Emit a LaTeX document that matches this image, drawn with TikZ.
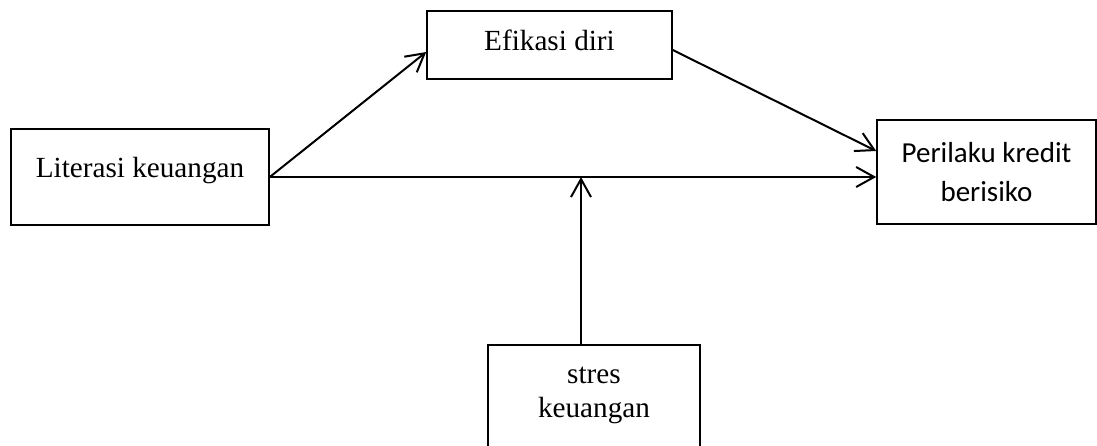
\documentclass[tikz,border=0pt]{standalone}
\usepackage{fontspec}
\setmainfont{Liberation Serif}
\newfontfamily\carlito{Carlito}
\usetikzlibrary{arrows.meta}
\tikzset{
  varbox/.style={draw, line width=0.8pt, inner sep=0pt, align=center,
    font=\fontsize{14.6}{17}\selectfont},
  path/.style={line width=1pt, -{Straight Barb[length=9pt,width=10pt,line width=1pt]}},
}

\begin{document}
\begin{tikzpicture}[x=0.5pt, y=-0.5pt]
  \useasboundingbox (0,0) rectangle (1097,445);

  \node [varbox, minimum width=129pt, minimum height=48pt, text height=10pt, text depth=10pt] (lit) at (140,177) {Literasi keuangan};
  \node [varbox, minimum width=122.5pt, minimum height=34pt, text height=10pt, text depth=5pt] (efi) at (549.5,45) {Efikasi diri};
  \node [varbox, minimum width=109.5pt, minimum height=52pt, font=\carlito\fontsize{14.5}{19.5}\selectfont] (per) at (986.5,172) {Perilaku kredit\\berisiko};
  \node [varbox, minimum width=106pt, inner ysep=11pt, text depth=40pt, anchor=north] (str) at (594,344) {stres\\keuangan};

  % moderating effect meets the direct path
  \coordinate (src) at ([xshift=-6.5pt]str.north);
  \coordinate (mod) at (src |- lit.east);

  \draw [path] (lit.east) -- ([yshift=-3.5pt]efi.west);
  \draw [path] ([yshift=-2.5pt]efi.east) -- ([yshift=10.5pt]per.west);
  \draw [path] (lit.east) -- (lit.east -| per.west);
  \draw [path] (src) -- (mod);
\end{tikzpicture}
\end{document}
